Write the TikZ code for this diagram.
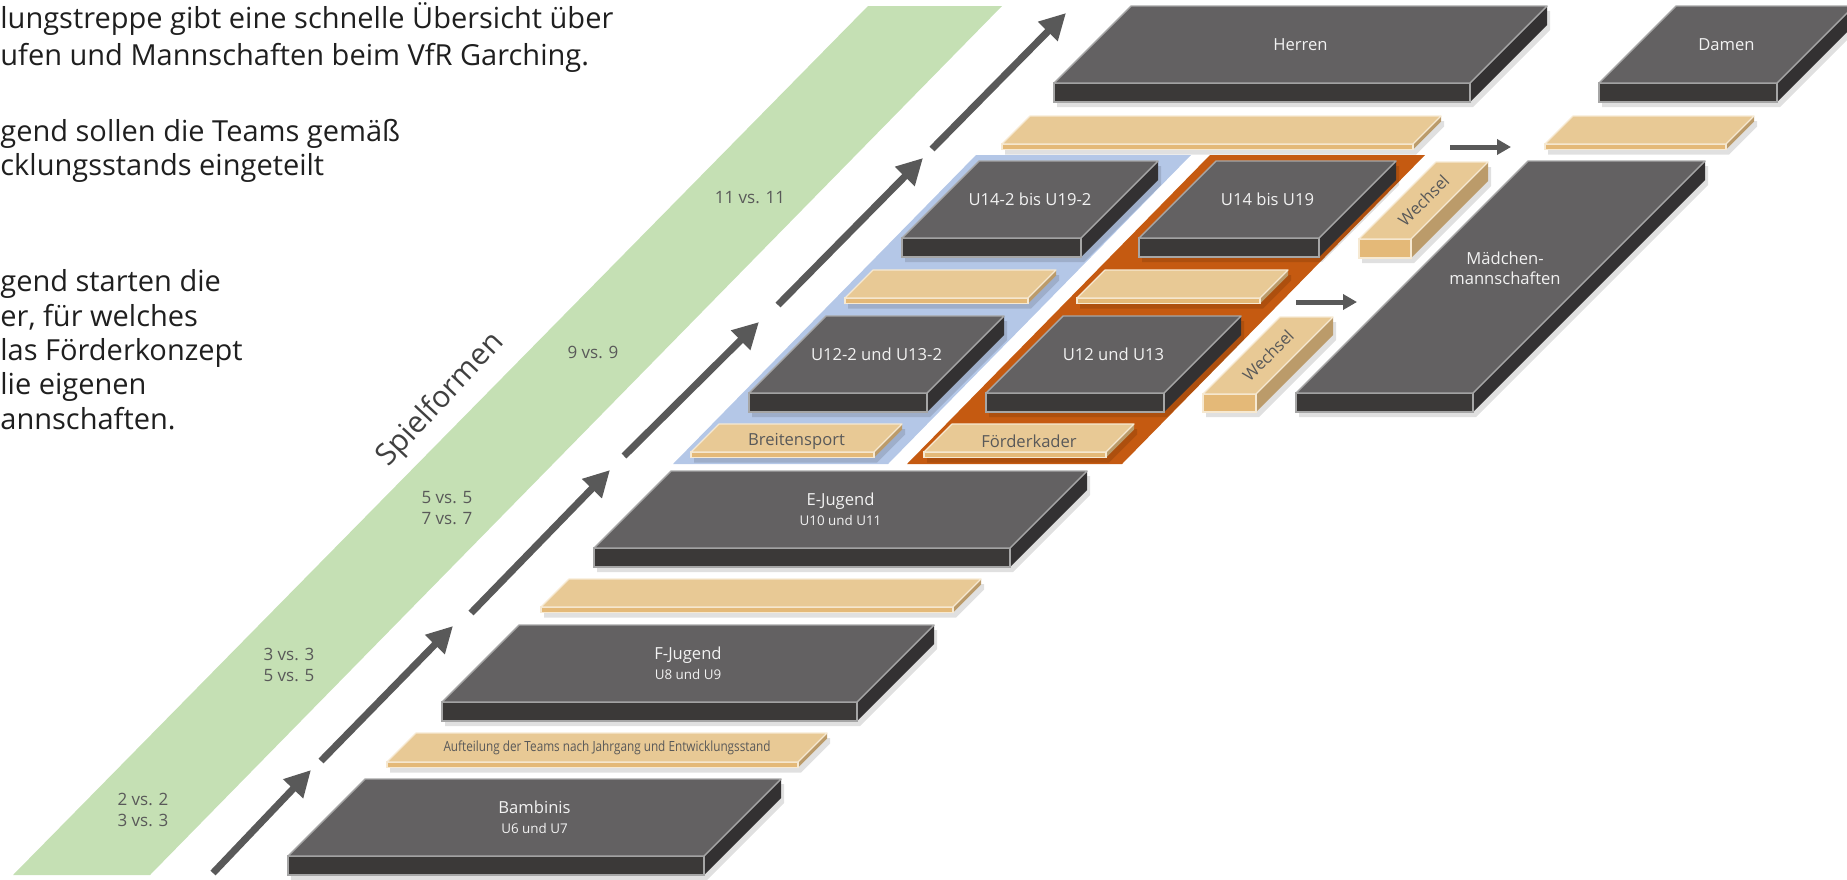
\documentclass[tikz,border=0pt]{standalone}
\usepackage{fontspec}
\setmainfont{Open Sans}
\newfontfamily\schmal[FakeStretch=0.84]{Open Sans}
\usetikzlibrary{arrows.meta}

\definecolor{gruen}{HTML}{C5E0B4}
\definecolor{blau}{HTML}{B4C7E7}
\definecolor{kader}{HTML}{C55A11}
\definecolor{pfeil}{HTML}{595959}
\definecolor{schrift}{HTML}{404040}
\definecolor{hell}{HTML}{F2F2F2}
\definecolor{kante}{HTML}{A6A6A6}
\definecolor{dunkelO}{HTML}{636162}
\definecolor{dunkelV}{HTML}{3B3938}
\definecolor{dunkelS}{HTML}{333132}
\definecolor{sandO}{HTML}{E8C995}
\definecolor{sandV}{HTML}{E4B978}
\definecolor{sandS}{HTML}{BB9B6A}
\definecolor{sandK}{HTML}{F6E9D2}

% Quader: Name, x, y (vordere obere linke Ecke), Breite, Tiefe, Dicke, Art
\newcommand{\quader}[7]{%
  \fill[schatten, shift={(3,5)}] (#2,#3) -- ++(0,#6) -- ++(#4,0) -- ++(#5,-#5) -- ++(0,-#6) -- ++(-#4,0) -- cycle;
  \path[#7 seite] (#2+#4,#3) -- ++(#5,-#5) -- ++(0,#6) -- ++(-#5,#5) -- cycle;
  \path[#7 vorn] (#2,#3) rectangle ++(#4,#6);
  \path[#7 oben] (#2,#3) -- ++(#4,0) -- ++(#5,-#5) -- ++(-#4,0) -- cycle;
  \coordinate (#1) at (#2+#4/2+#5/2,#3-#5/2);
}

\begin{document}
\begin{tikzpicture}[x=0.5pt, y=-0.5pt, >={Triangle[length=13pt, width=13pt]}]
  \tikzstyle{schatten}=[fill=black, opacity=0.12]
  \tikzstyle{dunkel oben}=[fill=dunkelO, draw=kante, line width=0.7pt, line join=round]
  \tikzstyle{dunkel vorn}=[fill=dunkelV, draw=kante, line width=0.7pt]
  \tikzstyle{dunkel seite}=[fill=dunkelS]
  \tikzstyle{sand oben}=[fill=sandO, draw=sandK, line width=0.6pt, line join=round]
  \tikzstyle{sand vorn}=[fill=sandV, draw=sandK, line width=0.6pt]
  \tikzstyle{sand seite}=[fill=sandS]
  \tikzstyle{fliesstext}=[anchor=base west, inner sep=0, text=black!88, font=\fontsize{14.5}{17}\selectfont]
  \tikzstyle{etikett}=[align=center, text=hell, font=\fontsize{8.3}{10}\selectfont]
  \tikzstyle{sandtext}=[text=pfeil, font=\fontsize{8.3}{10}\selectfont]
  \tikzstyle{spiel}=[align=center, text=pfeil, font=\fontsize{8.5}{10.5}\selectfont]
  \tikzstyle{treppe}=[->, draw=pfeil, line width=3.5pt]
  \tikzstyle{wechselpfeil}=[-{Triangle[length=7pt, width=7.5pt]}, draw=pfeil, line width=2.5pt]

  \useasboundingbox (0,0) rectangle (1847,879);
  \clip (0,0) rectangle (1847,879);

  % Einleitungstext (links angeschnitten)
  \node[fliesstext] (t1) at (0,28) {lungstreppe gibt eine schnelle Übersicht über};
  \node[fliesstext] (t2) at (0,65) {ufen und Mannschaften beim VfR Garching.};
  \node[fliesstext] (t3) at (0,141) {gend sollen die Teams gemäß};
  \node[fliesstext] (t4) at (0,175) {cklungsstands eingeteilt};
  \node[fliesstext] (t5) at (0,291) {gend starten die};
  \node[fliesstext] (t6) at (0,326) {er, für welches};
  \node[fliesstext] (t7) at (0,360) {las Förderkonzept};
  \node[fliesstext] (t8) at (0,394) {lie eigenen};
  \node[fliesstext] (t9) at (0,429) {annschaften.};

  % Spielformen
  \fill[gruen] (13,875) -- (150,875) -- (1002,6) -- (868,6) -- cycle;
  \node[spiel] (s1) at (143,810) {2 vs. 2\\3 vs. 3};
  \node[spiel] (s2) at (289,665) {3 vs. 3\\5 vs. 5};
  \node[spiel] (s3) at (447,508) {5 vs. 5\\7 vs. 7};
  \node[spiel] (s4) at (593,352) {9 vs. 9};
  \node[spiel] (s5) at (750,198) {11 vs. 11};
  \node[text=schrift, font=\fontsize{15}{18}\selectfont, rotate=47] (spielformen) at (441,400) {Spielformen};

  % Treppenpfeile
  \foreach \i/\ax/\ay/\bx/\by in {1/213/873/311/770, 2/321/761/453/626, 3/471/613/610/470,
                                  4/624/456/759/322, 5/778/305/923/158, 6/932/149/1066/13} {
    \coordinate (p\i a) at (\ax,\ay);
    \coordinate (p\i b) at (\bx,\by);
    \draw[treppe] (p\i a) -- (p\i b);
  }

  % Herren und Damen
  \quader{herren}{1054}{83}{416}{77}{19}{dunkel}
  \node[etikett] (herren-text) at (herren) {Herren};
  \quader{damen}{1599}{83}{178}{77}{19}{dunkel}
  \node[etikett] (damen-text) at (damen) {Damen};
  \quader{platte5}{1002}{144}{411}{28}{5.5}{sand}
  \quader{platte6}{1545}{144}{181}{28}{5.5}{sand}

  % Wechselpfeile
  \coordinate (w1a) at (1450,147);
  \coordinate (w1b) at (1511,147);
  \draw[wechselpfeil] (w1a) -- (w1b);
  \coordinate (w2a) at (1296,302);
  \coordinate (w2b) at (1357,302);
  \draw[wechselpfeil] (w2a) -- (w2b);

  % Breitensport und Foerderkader
  \fill[blau] (673,464) -- (888,464) -- (1191,155) -- (976,155) -- cycle;
  \fill[kader] (907,464) -- (1122,464) -- (1425,155) -- (1210,155) -- cycle;

  \quader{u14zwei}{902}{238}{179}{77}{19}{dunkel}
  \node[etikett] (u14zwei-text) at (u14zwei) {U14-2 bis U19-2};
  \quader{u14}{1139}{238}{180}{77}{19}{dunkel}
  \node[etikett] (u14-text) at (u14) {U14 bis U19};
  \quader{wechsel1}{1359}{239}{52}{77}{19}{sand}
  \node[sandtext, rotate=45] (wechsel1-text) at (wechsel1) {Wechsel};
  \quader{maedchen}{1296}{393}{177}{232}{19}{dunkel}
  \node[etikett] (maedchen-text) at (1505,268) {Mädchen-\\mannschaften};

  \quader{platte3}{845}{298}{183}{28}{5.5}{sand}
  \quader{platte4}{1077}{298}{183}{28}{5.5}{sand}
  \quader{u12zwei}{749}{393}{178}{77}{19}{dunkel}
  \node[etikett] (u12zwei-text) at (u12zwei) {U12-2 und U13-2};
  \quader{u12}{986}{393}{178}{77}{19}{dunkel}
  \node[etikett] (u12-text) at (u12) {U12 und U13};
  \quader{wechsel2}{1203}{394}{53}{77}{18}{sand}
  \node[sandtext, rotate=45] (wechsel2-text) at (wechsel2) {Wechsel};

  \quader{breiten}{691}{452}{183}{28}{5.5}{sand}
  \node[sandtext] (breiten-text) at ([yshift=-1.5pt]breiten) {Breitensport};
  \quader{foerder}{924}{452}{182}{28}{5.5}{sand}
  \node[sandtext] (foerder-text) at ([yshift=-1.5pt]foerder) {Förderkader};

  % Jugend
  \quader{ejugend}{594}{548}{416}{77}{19}{dunkel}
  \node[etikett] (ejugend-text) at (ejugend) {E-Jugend\\{\fontsize{6.7}{8}\selectfont U10 und U11}};
  \quader{platte2}{541}{607}{412}{28}{5.5}{sand}
  \quader{fjugend}{442}{702}{415}{77}{19}{dunkel}
  \node[etikett] (fjugend-text) at (fjugend) {F-Jugend\\{\fontsize{6.7}{8}\selectfont U8 und U9}};
  \quader{platte1}{387}{762}{411}{29}{5.5}{sand}
  \node[sandtext, font=\schmal\fontsize{7}{8}\selectfont] (platte1-text) at (platte1) {Aufteilung der Teams nach Jahrgang und Entwicklungsstand};
  \quader{bambinis}{288}{856}{416}{77}{19}{dunkel}
  \node[etikett] (bambinis-text) at (bambinis) {Bambinis\\{\fontsize{6.7}{8}\selectfont U6 und U7}};
\end{tikzpicture}
\end{document}
